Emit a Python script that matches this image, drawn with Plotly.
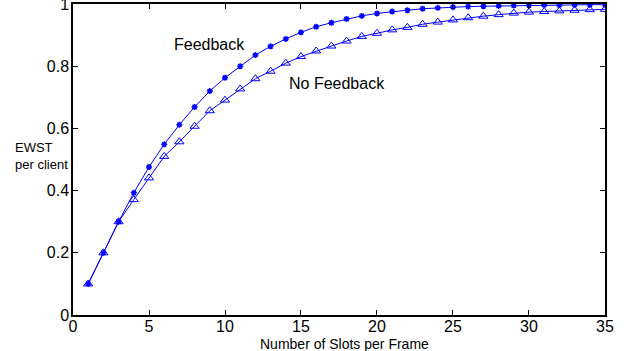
import plotly.graph_objects as go

slots = list(range(1, 36))
feedback = [0.100, 0.200, 0.300, 0.393, 0.476, 0.549, 0.612, 0.669, 0.720, 0.763,
            0.800, 0.836, 0.864, 0.888, 0.909, 0.927, 0.940, 0.952, 0.962, 0.970,
            0.976, 0.980, 0.985, 0.988, 0.990, 0.992, 0.993, 0.994, 0.995, 0.996,
            0.997, 0.997, 0.998, 0.998, 0.998]
no_feedback = [0.100, 0.200, 0.300, 0.371, 0.441, 0.510, 0.557, 0.607, 0.657, 0.691,
               0.727, 0.760, 0.784, 0.810, 0.831, 0.849, 0.865, 0.881, 0.896, 0.906,
               0.917, 0.925, 0.935, 0.942, 0.949, 0.956, 0.961, 0.966, 0.971, 0.974,
               0.976, 0.978, 0.980, 0.982, 0.983]
x_ticks = [0, 5, 10, 15, 20, 25, 30, 35]
y_ticks = [0, 0.2, 0.4, 0.6, 0.8, 1]
y_tick_labels = ["0", "0.2", "0.4", "0.6", "0.8", "1"]

blue = "#0000ff"
font = "Liberation Sans, Arial, Helvetica, sans-serif"

fig = go.Figure()
fig.add_trace(go.Scatter(x=slots, y=no_feedback, mode="lines+markers",
                         line=dict(color=blue, width=1),
                         marker=dict(symbol="triangle-up-open", size=8,
                                     color=blue, line=dict(color=blue, width=1)),
                         name="No Feedback"))
fig.add_trace(go.Scatter(x=slots, y=feedback, mode="lines+markers",
                         line=dict(color=blue, width=1),
                         marker=dict(symbol="asterisk-open", size=5,
                                     color=blue, line=dict(color=blue, width=1.5)),
                         name="Feedback"))

axis_common = dict(showline=True, linecolor="black", linewidth=1.5, mirror="ticks",
                   ticks="inside", ticklen=5, tickwidth=1, tickcolor="black",
                   showgrid=False, zeroline=False, ticklabeloverflow="allow",
                   automargin=False,
                   tickfont=dict(family=font, size=16, color="black"))
fig.update_xaxes(range=[0, 35.001], tickvals=x_ticks, ticklabelstandoff=-4, **axis_common)
fig.update_yaxes(range=[0, 1.0002], tickvals=y_ticks, ticktext=y_tick_labels,
                 ticklabelstandoff=-1, **axis_common)

fig.add_annotation(x=9.0, y=0.87, text="Feedback", showarrow=False,
                   font=dict(family=font, size=16, color="black"))
fig.add_annotation(x=17.4, y=0.745, text="No Feedback", showarrow=False,
                   font=dict(family=font, size=16, color="black"))
fig.add_annotation(xref="paper", yref="paper", x=0.51, y=-0.093, yanchor="middle",
                   text="Number of Slots per Frame", showarrow=False,
                   font=dict(family=font, size=14, color="black"))
fig.add_annotation(xref="paper", yref="paper", x=-0.112, y=0.51, xanchor="left",
                   align="left", text="EWST<br>per client", showarrow=False,
                   font=dict(family=font, size=13, color="black"))

fig.update_layout(width=632, height=351, showlegend=False,
                  margin=dict(l=73, r=27, t=4, b=36),
                  paper_bgcolor="white", plot_bgcolor="white",
                  font=dict(family=font))
fig.write_html("out.html")
